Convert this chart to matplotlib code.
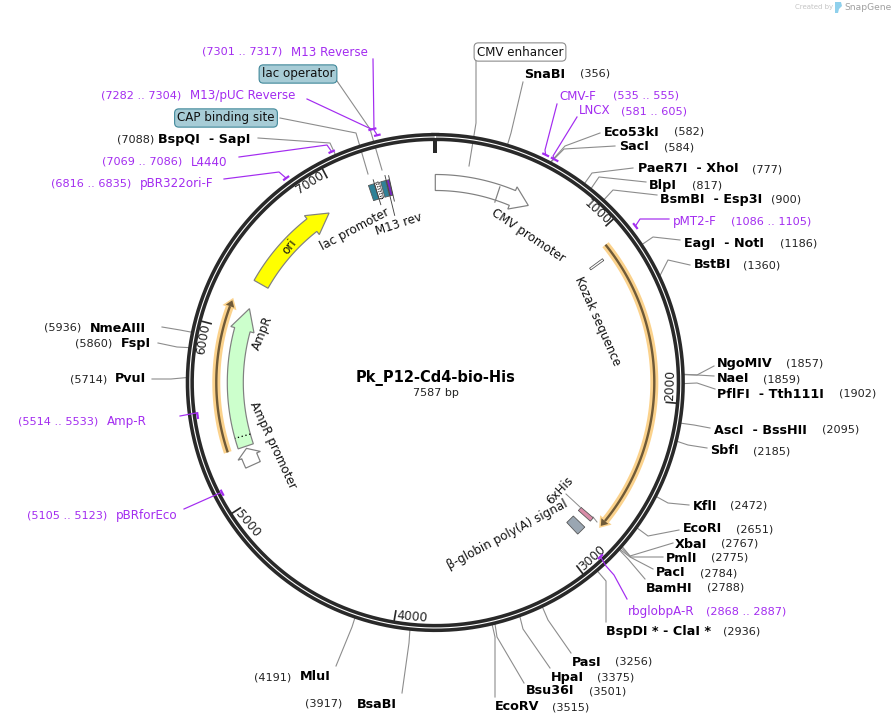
import numpy as np
import matplotlib
matplotlib.use("Agg")
import matplotlib.pyplot as plt
from matplotlib.patches import Polygon

TOTAL_BP = 7587
CX, CY = 435.3, 382.5
PX = 0.72  # one pixel in points at dpi 100
LEADER = "#8c8c8c"
PURPLE = "#a32cf0"
DARK = "#292929"

# restriction sites
enzyme_names = ["SnaBI", "Eco53kI", "SacI", "PaeR7I  - XhoI", "BlpI", "BsmBI  - Esp3I", "EagI  - NotI",
                "BstBI", "NgoMIV", "NaeI", "PflFI  - Tth111I", "AscI  - BssHII", "SbfI", "KflI", "EcoRI",
                "XbaI", "PmlI", "PacI", "BamHI", "BspDI * - ClaI *", "PasI", "HpaI", "Bsu36I", "EcoRV",
                "BsaBI", "MluI", "PvuI", "FspI", "NmeAIII", "BspQI  - SapI"]
enzyme_sites = [356, 582, 584, 777, 817, 900, 1186, 1360, 1857, 1859, 1902, 2095, 2185, 2472, 2651,
                2767, 2775, 2784, 2788, 2936, 3256, 3375, 3501, 3515, 3917, 4191, 5714, 5860, 5936, 7088]
# layout of those labels, in pixels
enzyme_name_x = [524, 604, 619, 638, 649, 660, 684, 694, 717, 717, 717, 714, 710, 693, 683,
                 675, 666, 656, 646, 606, 572, 551, 526, 495, 357, 300, 115, 121, 90, 158]
enzyme_site_x = [580, 674, 664, 752, 692, 771, 780, 743, 786, 763, 839, 822, 753, 730, 736,
                 721, 711, 700, 707, 723, 615, 597, 589, 552, 305, 254, 70, 75, 44, 117]
enzyme_y = [74, 132, 147, 169, 185, 199, 243, 265, 364, 379, 394, 430, 451, 506, 529,
            544, 558, 573, 588, 632, 662, 677, 691, 707, 704, 677, 379, 344, 328, 139]
enzyme_elbow = [(511, 133), (565, 146), (564, 149), (592, 173), (599, 177), (613, 190), (653, 237),
                (668, 260), (697, 375), (697, 375), (697, 383), (694, 425), (688, 445), (668, 503),
                (648, 536), (630, 556), (631, 557), (630, 557), (628, 559), (606, 581), (548, 620),
                (523, 629), (497, 637), (495, 637), (409, 643), (352, 627), (171, 379), (177, 347),
                (180, 330), (330, 143)]
enzyme_end = [(523, 82), (600, 133), (615, 146), (633, 168), (646, 182), (657, 195), (680, 240),
              (690, 265), (714, 366), (714, 376), (715, 389), (710, 428), (707, 448), (689, 505),
              (679, 530), (673, 543), (663, 557), (653, 569), (645, 579), (606, 622), (571, 653),
              (550, 668), (524, 683), (495, 697), (402, 693), (336, 666), (152, 379), (158, 343),
              (162, 327), (258, 138)]

# primers
primer_names = ["M13 Reverse", "M13/pUC Reverse", "L4440", "pBR322ori-F", "Amp-R", "pBRforEco",
                "rbglobpA-R", "pMT2-F", "LNCX", "CMV-F"]
primer_start = [7301, 7282, 7069, 6816, 5514, 5105, 2868, 1086, 581, 535]
primer_stop = [7317, 7304, 7086, 6835, 5533, 5123, 2887, 1105, 605, 555]
primer_radius = [254, 261, 253, 253, 240, 240, 240, 254, 253, 253]
primer_range_x = [202, 101, 102, 51, 18, 27, 706, 731, 621, 613]
primer_name_x = [291, 190, 191, 140, 107, 116, 628, 673, 579, 559]
primer_y = [52, 96, 162, 184, 422, 516, 611, 222, 111, 96]
primer_line = [[(373, 59), (374, 130)], [(307, 99), (369, 128)], [(239, 157), (327, 145)],
               [(224, 179), (279, 172)], [(180, 416), (196, 413)], [(184, 509), (220, 493)],
               [(627, 599), (614, 575), (606, 566)], [(669, 219), (640, 219)],
               [(577, 117), (553, 156)], [(557, 104), (545, 150)]]

# map features: start, head base, tip
arrow_names = ["CMV promoter", "ori", "AmpR", "AmpR promoter"]
arrow_start = [0, 6310, 5298, 5178]
arrow_head = [478, 6784, 6013, 5237]
arrow_tip = [584, 6911, 6147, 5285]
arrow_fill = ["white", "#ffff00", "#ccffcc", "white"]
cmv_enhancer_end = 385
ampr_signal_bp = 5362

orange_start = [1075, 5298]
orange_tip = [2759, 6155]

block_start = [1127, 2752, 2825, 7192, 7228, 7266, 7301]
block_stop = [1140, 2778, 2883, 7228, 7258, 7296, 7317]
block_fill = ["white", "#d98ca8", "#9aa6b2", "#2f8197", "white", "#2f8197", "#7a22c8"]

tick_bp = [1000, 2000, 3000, 4000, 5000, 6000, 7000]
tick_text = ["1000", "2000", "3000", "4000", "5000", "6000", "7000"]
tick_label_xy = [(597, 212), (670, 385), (592, 558), (412, 617), (248, 524), (203, 339), (310, 183)]
tick_label_rot = [-43, 88, 42, -5, -50, 80, 33]

# label name, x, y, rotation
feature_labels = [("CMV promoter", 528, 236, -34), ("Kozak sequence", 597, 321, -66),
                  ("lac promoter", 355, 229, 28), ("M13 rev", 399, 224, 18),
                  ("ori", 289, 247, 52), ("AmpR", 263, 333, 68),
                  ("AmpR promoter", 273, 445, -65), ("6xHis", 560, 490, 47),
                  ("β-globin poly(A) signal", 507, 535, 28)]
boxed_names = ["CMV enhancer", "lac operator", "CAP binding site"]
boxed_xy = [(520, 52), (298, 74), (226, 118)]
boxed_fill = ["white", "#a7ccd6", "#a7ccd6"]
boxed_edge = ["#8c8c8c", "#3f8799", "#3f8799"]
boxed_line = [[(476, 59), (476, 123), (469, 166)], [(337, 81), (370, 129), (382, 170)],
              [(280, 118), (356, 133), (368, 174)]]


def polar(bp, r):
    a = 2 * np.pi * np.asarray(bp, dtype=float) / TOTAL_BP
    return CX + r * np.sin(a), CY - r * np.cos(a)


def arc(start, stop, r, n=60):
    x, y = polar(np.linspace(start, stop, n), r)
    return np.column_stack([x, y])


def band(start, stop, r_in, r_out):
    return np.vstack([arc(start, stop, r_out), arc(stop, start, r_in)])


def arrow_shape(start, head, tip, r_in=192, r_out=208, rh_in=188, rh_out=212):
    mid = (r_in + r_out) / 2
    return np.vstack([arc(start, head, r_out), arc(head, head, rh_out, 2),
                      [polar(tip, mid)], arc(head, head, rh_in, 2), arc(head, start, r_in)])


fig = plt.figure(figsize=(8.92, 7.26), dpi=100)
ax = fig.add_axes([0, 0, 1, 1])
ax.set_xlim(0, 892)
ax.set_ylim(726, 0)
ax.axis("off")

# backbone ring
ring = arc(0, TOTAL_BP, 245.5, 400)
ax.plot(ring[:, 0], ring[:, 1], color=DARK, lw=8.2 * PX, zorder=3)
ax.plot(ring[:, 0], ring[:, 1], color="white", lw=1.1 * PX, zorder=3)

# ticks
x, y = zip(polar(0, 229.5), polar(0, 242))
ax.plot(x, y, color=DARK, lw=4 * PX, solid_capstyle="butt", zorder=3)
for bp, label, xy, rot in zip(tick_bp, tick_text, tick_label_xy, tick_label_rot):
    x, y = zip(polar(bp, 231), polar(bp, 242))
    ax.plot(x, y, color=DARK, lw=1.7 * PX, solid_capstyle="butt", zorder=3)
    ax.text(xy[0], xy[1], label, rotation=rot, ha="center", va="center", fontsize=8.8, color="#222222",
            rotation_mode="anchor")

# enzymes
for i, name in enumerate(enzyme_names):
    sx, sy = polar(enzyme_sites[i], 249)
    ex, ey = enzyme_elbow[i]
    tx, ty = enzyme_end[i]
    ax.plot([sx, ex, tx], [sy, ey, ty], color=LEADER, lw=1.1 * PX, zorder=2)
    ax.text(enzyme_name_x[i], enzyme_y[i], name, fontweight="bold", fontsize=9.2, va="center", color="black")
    ax.text(enzyme_site_x[i], enzyme_y[i], "(%d)" % enzyme_sites[i], fontsize=8.1, va="center", color="#222222")

# primers
for i, name in enumerate(primer_names):
    mark = arc(primer_start[i] - 8, primer_stop[i] + 8, primer_radius[i], 8)
    ax.plot(mark[:, 0], mark[:, 1], color=PURPLE, lw=2.2 * PX, solid_capstyle="butt", zorder=4)
    px, py = polar((primer_start[i] + primer_stop[i]) / 2, primer_radius[i])
    pts = primer_line[i] + [(px, py)]
    ax.plot([p[0] for p in pts], [p[1] for p in pts], color=PURPLE, lw=1.2 * PX, zorder=4)
    ax.text(primer_name_x[i], primer_y[i], name, fontsize=8.6, va="center", color=PURPLE)
    ax.text(primer_range_x[i], primer_y[i], "(%d .. %d)" % (primer_start[i], primer_stop[i]),
            fontsize=8.1, va="center", color=PURPLE)

# big arrows
for i, name in enumerate(arrow_names):
    shape = arrow_shape(arrow_start[i], arrow_head[i], arrow_tip[i])
    ax.add_patch(Polygon(shape, closed=True, fc=arrow_fill[i], ec="#808080", lw=1.2 * PX, zorder=4))
x, y = zip(polar(cmv_enhancer_end, 190), polar(cmv_enhancer_end, 206))
ax.plot(x, y, color="#808080", lw=1.2 * PX, zorder=5)
x, y = zip(polar(ampr_signal_bp, 192), polar(ampr_signal_bp, 208))
ax.plot(x, y, color="black", lw=1.3 * PX, ls=(0, (1, 2)), zorder=5)

# orange arcs
for start, tip in zip(orange_start, orange_tip):
    a = arc(start, tip - 35, 219, 120)
    head = np.vstack([polar(tip - 35, 223.5), polar(tip, 219), polar(tip - 35, 214.5)])
    ax.plot(a[:, 0], a[:, 1], color="#fbd28c", lw=8 * PX, solid_capstyle="butt", zorder=4)
    ax.add_patch(Polygon(head, closed=True, fc="#6f5a38", ec="#fbd28c", lw=3 * PX, zorder=4))
    ax.plot(a[:, 0], a[:, 1], color="#6f5a38", lw=2.4 * PX, solid_capstyle="butt", zorder=5)
    ax.add_patch(Polygon(head, closed=True, fc="#6f5a38", ec="none", zorder=5))

# small blocks
for start, stop, fill in zip(block_start, block_stop, block_fill):
    ax.add_patch(Polygon(band(start, stop, 192, 208), closed=True, fc=fill, ec="#555555", lw=0.8 * PX, zorder=5))
for bp in [7240, 7250]:
    x, y = zip(polar(bp, 191), polar(bp, 209))
    ax.plot(x, y, color="black", lw=1 * PX, ls=(0, (1, 1.5)), zorder=6)
for bp, r0, r1 in [(7228, 186, 212), (7299, 172, 213), (7319, 186, 212)]:
    x, y = zip(polar(bp, r0), polar(bp, r1))
    ax.plot(x, y, color="#444444", lw=0.9 * PX, zorder=6)

# leader for 6xHis
ax.plot([566, 580], [494, 507], color=LEADER, lw=1 * PX, zorder=2)
ax.plot([593, 597], [517, 522], color=LEADER, lw=1 * PX, zorder=2)

# labels on the map
for name, x, y, rot in feature_labels:
    ax.text(x, y, name, rotation=rot, ha="center", va="center", fontsize=8.6, color="#111111", zorder=7)

for name, xy, fill, edge, line in zip(boxed_names, boxed_xy, boxed_fill, boxed_edge, boxed_line):
    ax.plot([p[0] for p in line], [p[1] for p in line], color=LEADER, lw=1.1 * PX, zorder=2)
    ax.text(xy[0], xy[1], name, ha="center", va="center", fontsize=8.6, color="#111111", zorder=7,
            bbox=dict(boxstyle="round,pad=0.22,rounding_size=0.35", fc=fill, ec=edge, lw=1.1 * PX))

# centre title
ax.text(436, 378, "Pk_P12-Cd4-bio-His", ha="center", va="center", fontsize=10.5, fontweight="bold", color="black")
ax.text(436, 393, "7587 bp", ha="center", va="center", fontsize=8, color="#222222")

# watermark
ax.text(795, 7, "Created by", fontsize=5, va="center", color="#c4c4c4")
ax.add_patch(Polygon([(835, 2), (841, 2), (842, 6), (839, 9), (838, 13), (835, 13)], closed=True,
                     fc="#8fd0ec", ec="none"))
ax.text(844, 7, "SnapGene", fontsize=6.6, va="center", color="#a0a0a0")

fig.savefig("out.png", dpi=100)
